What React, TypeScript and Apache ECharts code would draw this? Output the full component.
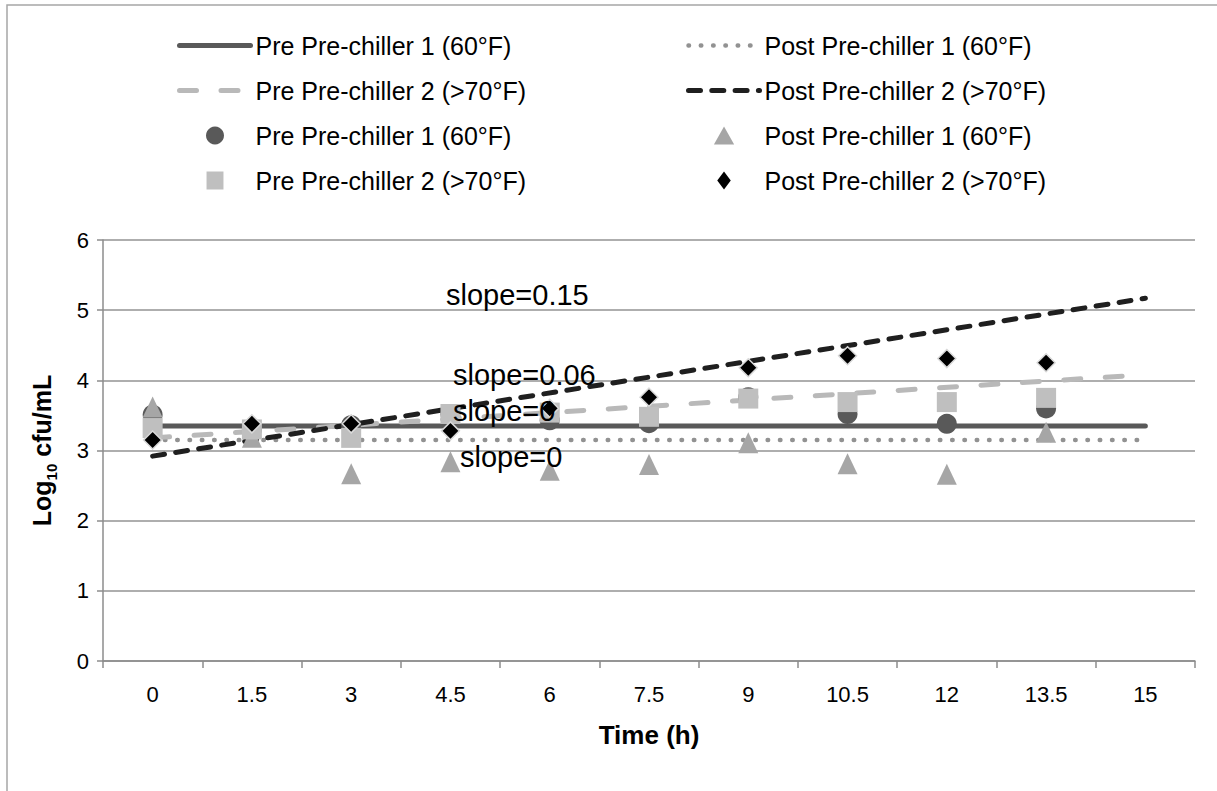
import React, { useEffect, useRef } from 'react';
import * as echarts from 'echarts';

// Sampling times (h) shown on the category axis
const timeLabels = ['0', '1.5', '3', '4.5', '6', '7.5', '9', '10.5', '12', '13.5', '15'];

// Series labels
const seriesLabels = [
  'Pre Pre-chiller 1 (60°F)',
  'Post Pre-chiller 1 (60°F)',
  'Pre Pre-chiller 2 (>70°F)',
  'Post Pre-chiller 2 (>70°F)',
];

// Log10 cfu/mL observations, one per sampling time 0 … 13.5 h
const prePre1 = [3.51, 3.3, 3.36, 3.52, 3.43, 3.39, 3.76, 3.52, 3.38, 3.6];
const postPre1 = [3.62, 3.19, 2.67, 2.84, 2.72, 2.8, 3.11, 2.81, 2.66, 3.26];
const prePre2 = [3.32, 3.3, 3.18, 3.52, 3.54, 3.48, 3.74, 3.69, 3.69, 3.75];
const postPre2 = [3.15, 3.38, 3.38, 3.28, 3.6, 3.76, 4.18, 4.35, 4.31, 4.25];

// Linear trend lines (per hour), same order as seriesLabels
const trendIntercepts = [3.35, 3.15, 3.18, 2.92];
const trendSlopes = [0, 0, 0.06, 0.15];
const trendSpan = [0, 15];

// Value axis
const yMin = 0;
const yMax = 6;
const yInterval = 1;

const FONT = "'Liberation Sans', Arial, Helvetica, sans-serif";

const trendStyles = [
  { color: '#595959', width: 5, type: 'solid' as any },
  { color: '#929292', width: 4.5, type: [0.5, 11.8] },
  { color: '#b9b9b9', width: 5, type: [17, 24.5] },
  { color: '#1f1f1f', width: 5, type: [12, 11.3] },
];

const markerStyles = [
  { symbol: 'circle', size: 20, color: '#595959', icon: 'circle' },
  { symbol: 'triangle', size: [20, 21], color: '#a6a6a6', icon: 'path://M9,0L18,16L0,16Z' },
  { symbol: 'rect', size: 20, color: '#bfbfbf', icon: 'path://M0,0L16,0L16,17L0,17Z' },
  { symbol: 'diamond', size: 18, color: '#000000', icon: 'path://M6,0L12,8L6,16L0,8Z' },
];

const markerData = [prePre1, postPre1, prePre2, postPre2];

// Where each trend's slope annotation sits (px)
const slopeLabelPos = [
  { x: 453, y: 411 },
  { x: 460, y: 457 },
  { x: 453, y: 375 },
  { x: 446, y: 295 },
];

const trendName = (i: number) => 'trend|' + seriesLabels[i];

export default function App() {
  const ref = useRef<HTMLDivElement>(null);

  useEffect(() => {
    if (!ref.current) return;
    const chart = echarts.init(ref.current, undefined, { renderer: 'svg' });

    const trendLineStyle = (i: number) => ({
      color: trendStyles[i].color,
      width: trendStyles[i].width,
      type: trendStyles[i].type,
      cap: 'round',
    });

    const trendSeries = seriesLabels.map((_, i) => ({
      name: trendName(i),
      type: 'line',
      data: trendSpan.map((t) => [String(t), trendIntercepts[i] + trendSlopes[i] * t]),
      symbol: 'none',
      silent: true,
      z: 2,
      lineStyle: trendLineStyle(i),
      itemStyle: { color: trendStyles[i].color },
    }));

    const scatterSeries = seriesLabels.map((label, i) => ({
      name: label,
      type: 'scatter',
      data: markerData[i],
      symbol: markerStyles[i].symbol,
      symbolSize: markerStyles[i].size,
      silent: true,
      z: 3 + i,
      itemStyle:
        i === 3
          ? { color: markerStyles[i].color, opacity: 1, borderColor: '#d9d9d9', borderWidth: 1.5 }
          : { color: markerStyles[i].color, opacity: 1 },
    }));

    const legendItems = (idx: number[]) => [
      ...idx.map((i) => ({
        name: trendName(i),
        itemStyle: { opacity: 0 },
        lineStyle: trendLineStyle(i),
      })),
      ...idx.map((i) => ({
        name: seriesLabels[i],
        icon: markerStyles[i].icon,
        itemStyle: { color: markerStyles[i].color, borderWidth: 0, opacity: 1 },
      })),
    ];

    const legendBase = {
      orient: 'vertical',
      top: 33,
      padding: 0,
      itemWidth: 71,
      itemHeight: 18,
      itemGap: 20,
      selectedMode: false,
      formatter: (n: string) => n.replace(/^trend\|/, ''),
      textStyle: { fontSize: 25, lineHeight: 25, color: '#000', fontFamily: FONT },
    };

    const axisGray = '#8c8c8c';

    chart.setOption({
      animation: false,
      backgroundColor: '#ffffff',
      textStyle: { fontFamily: FONT },
      grid: { left: 103, right: 22, top: 240, bottom: 130, containLabel: false },
      legend: [
        { ...legendBase, left: 177, data: legendItems([0, 2]) },
        { ...legendBase, left: 686, data: legendItems([1, 3]) },
      ],
      xAxis: {
        type: 'category',
        data: timeLabels,
        boundaryGap: true,
        name: 'Time (h)',
        nameLocation: 'middle',
        nameGap: 61,
        nameTextStyle: { fontSize: 26, fontWeight: 'bold', color: '#000', fontFamily: FONT },
        axisLine: { show: true, lineStyle: { color: axisGray, width: 1.5 } },
        axisTick: { show: true, interval: 0, length: 7, lineStyle: { color: axisGray, width: 1.5 } },
        axisLabel: { interval: 0, margin: 22, fontSize: 22, color: '#000', fontFamily: FONT },
        splitLine: { show: false },
      },
      yAxis: {
        type: 'value',
        min: yMin,
        max: yMax,
        interval: yInterval,
        name: '{m|Log}{s|10}{m| cfu/mL}',
        nameLocation: 'middle',
        nameRotate: 90,
        nameGap: 44,
        nameTextStyle: {
          fontSize: 25,
          fontWeight: 'bold',
          color: '#000',
          fontFamily: FONT,
          rich: {
            m: { fontSize: 25, fontWeight: 'bold', fontFamily: FONT, color: '#000', lineHeight: 34, verticalAlign: 'middle' },
            s: { fontSize: 15, fontWeight: 'bold', fontFamily: FONT, color: '#000', lineHeight: 15, verticalAlign: 'bottom' },
          },
        },
        axisLine: { show: true, lineStyle: { color: axisGray, width: 1.5 } },
        axisTick: { show: true, length: 6, lineStyle: { color: axisGray, width: 1.5 } },
        axisLabel: { margin: 14, fontSize: 22, color: '#000', fontFamily: FONT },
        splitLine: { show: true, lineStyle: { color: '#939393', width: 1.5 } },
      },
      graphic: [
        {
          type: 'rect',
          silent: true,
          z: -10,
          shape: { x: 7, y: 5, width: 1400, height: 1000 },
          style: { fill: 'none', stroke: '#a6a6a6', lineWidth: 1.5 },
        },
        ...trendSlopes.map((s, i) => ({
          type: 'text',
          silent: true,
          z: 100,
          x: slopeLabelPos[i].x,
          y: slopeLabelPos[i].y,
          style: {
            text: 'slope=' + s,
            fontSize: 29,
            fontFamily: FONT,
            fill: '#000',
            align: 'left',
            verticalAlign: 'middle',
          },
        })),
      ],
      series: [...trendSeries, ...scatterSeries],
    });

    return () => chart.dispose();
  }, []);

  return (
    <div
      ref={ref}
      style={{ position: 'absolute', left: 0, top: 0, width: 1217, height: 791, background: '#fff' }}
    />
  );
}
